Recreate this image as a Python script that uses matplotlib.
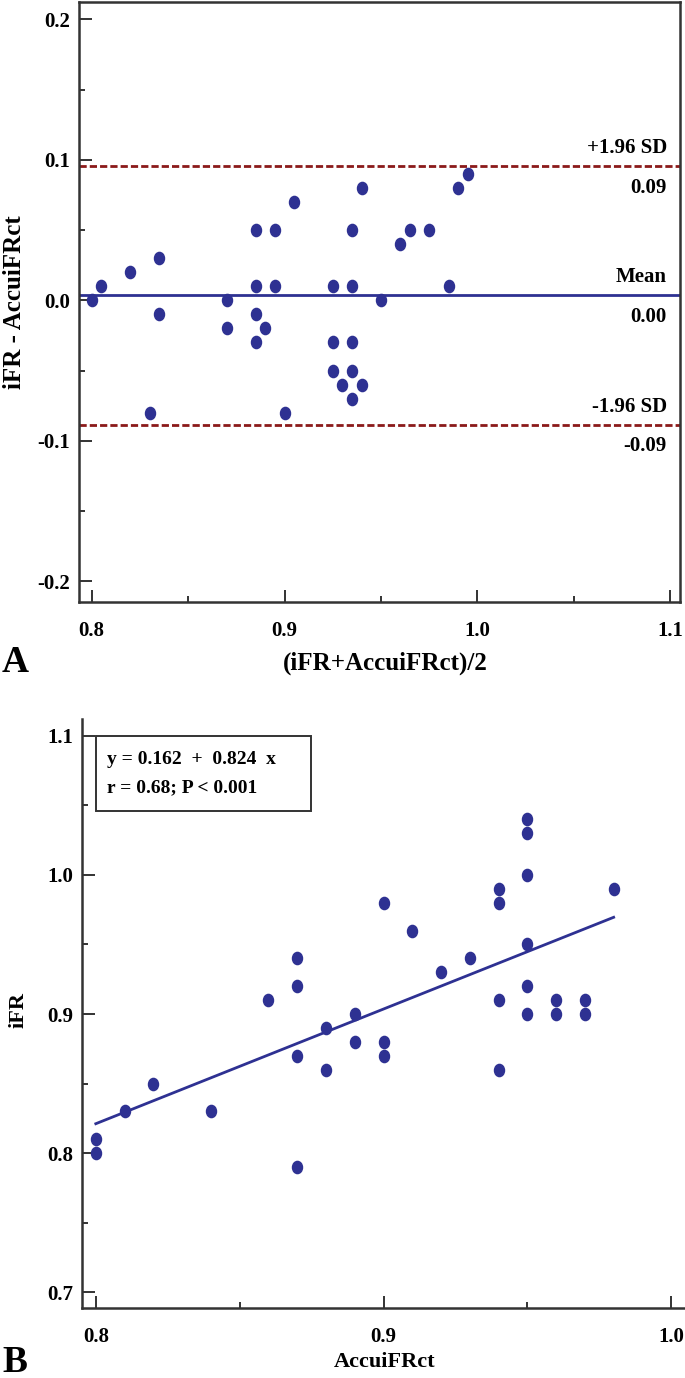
import numpy as np
import matplotlib
matplotlib.use("Agg")
import matplotlib.pyplot as plt
from matplotlib.path import Path
from matplotlib.ticker import MultipleLocator, FormatStrFormatter
from matplotlib.patches import Rectangle
import matplotlib.transforms as mtransforms

accuifrct = [0.80, 0.80, 0.81, 0.82, 0.84, 0.86, 0.87, 0.87, 0.87, 0.87,
             0.88, 0.88, 0.89, 0.89, 0.90, 0.90, 0.90, 0.91, 0.92, 0.93,
             0.94, 0.94, 0.94, 0.94, 0.95, 0.95, 0.95, 0.95, 0.95, 0.95,
             0.96, 0.96, 0.97, 0.97, 0.98]
ifr = [0.81, 0.80, 0.83, 0.85, 0.83, 0.91, 0.94, 0.92, 0.87, 0.79,
       0.89, 0.86, 0.90, 0.88, 0.98, 0.88, 0.87, 0.96, 0.93, 0.94,
       0.99, 0.98, 0.91, 0.86, 1.04, 1.03, 1.00, 0.95, 0.92, 0.90,
       0.91, 0.90, 0.91, 0.90, 0.99]

# printed values
limit_names = ["+1.96 SD", "Mean", "-1.96 SD"]
limit_labels = ["0.09", "0.00", "-0.09"]
intercept = 0.162
slope = 0.824
r_text = "r = 0.68; P < 0.001"

blue = "#2e3192"
red = "#8b1a1a"
dark = "#333333"

plt.rcParams["font.family"] = ["Liberation Serif", "DejaVu Serif"]
plt.rcParams["font.weight"] = "bold"

# slightly tall elliptical dot like the original
circ = Path.unit_circle()
dot = Path(circ.vertices * np.array([0.82, 1.0]), circ.codes)

acc = np.array(accuifrct)
fr = np.array(ifr)
avg = (fr + acc) / 2
diff = fr - acc
mean_d = diff.mean()
sd_d = diff.std(ddof=1)
limits = [mean_d + 1.96 * sd_d, mean_d, mean_d - 1.96 * sd_d]

W, H = 685, 1378
fig = plt.figure(figsize=(W / 100, H / 100), dpi=100)


def px_axes(left, top, right, bottom):
    return fig.add_axes([left / W, 1 - bottom / H, (right - left) / W, (bottom - top) / H])


def style(ax, spines_all):
    for name, sp in ax.spines.items():
        sp.set_color(dark)
        sp.set_linewidth(1.8)
        if not spines_all and name in ("top", "right"):
            sp.set_visible(False)
    ax.tick_params(which="both", direction="in", color=dark, width=1.4,
                   labelsize=15, top=False, right=False)
    ax.tick_params(which="major", length=9)
    ax.tick_params(which="minor", length=4.5)
    ax.tick_params(axis="y", pad=6.5)
    ax.xaxis.set_minor_locator(MultipleLocator(0.05))
    ax.yaxis.set_minor_locator(MultipleLocator(0.05))
    ax.xaxis.set_major_formatter(FormatStrFormatter("%.1f"))
    ax.yaxis.set_major_formatter(FormatStrFormatter("%.1f"))


# ---------------- panel A: Bland-Altman ----------------
axA = px_axes(79.3, 2, 680, 602)
axA.plot(avg, diff, linestyle="none", marker=dot, markersize=8.8, color=blue)
axA.axhline(limits[1], color=blue, lw=2)
axA.axhline(limits[0], color=red, lw=2, dashes=(2.6, 1.1))
axA.axhline(limits[2], color=red, lw=2, dashes=(2.6, 1.1))
axA.set_xlim(0.7936, 1.105)
axA.set_ylim(-0.2147, 0.2123)
axA.set_xticks([0.8, 0.9, 1.0, 1.1])
axA.set_yticks([-0.2, -0.1, 0.0, 0.1, 0.2])
style(axA, True)
axA.tick_params(axis="x", pad=14)

trans = mtransforms.blended_transform_factory(axA.transAxes, axA.transData)
for val, name, lab in zip(limits, limit_names, limit_labels):
    axA.annotate(name, xy=(0.978, val), xycoords=trans, xytext=(0, 13),
                 textcoords="offset points", ha="right", va="center",
                 fontsize=15, fontweight="bold")
    axA.annotate(lab, xy=(0.978, val), xycoords=trans, xytext=(0, -15.5),
                 textcoords="offset points", ha="right", va="center",
                 fontsize=15, fontweight="bold")

axA.set_xlabel("(iFR+AccuiFRct)/2", fontsize=18, fontweight="bold", va="center")
axA.xaxis.set_label_coords(0.509, -0.1017)
axA.set_ylabel("iFR - AccuiFRct", fontsize=18, fontweight="bold", va="center")
axA.yaxis.set_label_coords(-0.1087, 0.5)

# ---------------- panel B: regression ----------------
axB = px_axes(82, 719, 685, 1307.7)
axB.plot(acc, fr, linestyle="none", marker=dot, markersize=8.8, color=blue)
xs = np.array([acc.min(), acc.max()])
axB.plot(xs, intercept + slope * xs, color=blue, lw=2)
axB.set_xlim(0.7952, 1.0048)
axB.set_ylim(0.689, 1.112)
axB.set_xticks([0.8, 0.9, 1.0])
axB.set_yticks([0.7, 0.8, 0.9, 1.0, 1.1])
style(axB, False)
axB.tick_params(axis="x", pad=14)

axB.add_patch(Rectangle((0.0227, 0.8437), 0.3566, 0.1274, transform=axB.transAxes,
                        fill=False, edgecolor=dark, lw=1.4, clip_on=False))
axB.text(0.0415, 0.932, f"y = {intercept:.3f}  +  {slope:.3f}  x", transform=axB.transAxes,
         ha="left", va="center", fontsize=14, fontweight="bold")
axB.text(0.0415, 0.8828, r_text, transform=axB.transAxes,
         ha="left", va="center", fontsize=14, fontweight="bold")

axB.set_xlabel("AccuiFRct", fontsize=16, fontweight="bold", va="center")
axB.xaxis.set_label_coords(0.5025, -0.0922)
axB.set_ylabel("iFR", fontsize=16, fontweight="bold", va="center")
axB.yaxis.set_label_coords(-0.106, 0.506)

fig.text(15 / W, 1 - 662 / H, "A", fontsize=27, fontweight="bold", ha="center", va="center")
fig.text(15 / W, 1 - 1362 / H, "B", fontsize=27, fontweight="bold", ha="center", va="center")

fig.savefig("out.png", dpi=100)
